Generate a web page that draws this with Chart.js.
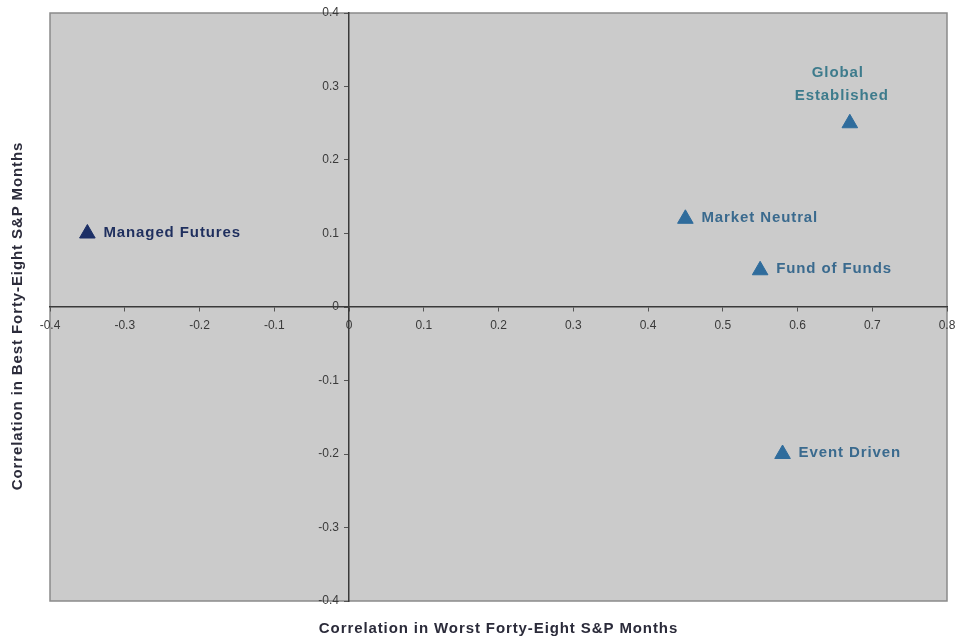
<!DOCTYPE html>
<html>
<head>
<meta charset="utf-8">
<style>
  html, body { margin: 0; padding: 0; background: #ffffff; }
  canvas { display: block; }
</style>
<script src="https://cdn.jsdelivr.net/npm/chart.js@4.4.1/dist/chart.umd.min.js"></script>
</head>
<body>
<canvas id="chart" width="960" height="640"></canvas>
<script>
// Hedge fund strategy correlations with the S&P 500
const strategies = ['Managed Futures', 'Market Neutral', 'Fund of Funds', 'Global Established', 'Event Driven'];
const worstMonthsCorr = [-0.35, 0.45, 0.55, 0.67, 0.58];
const bestMonthsCorr = [0.10, 0.12, 0.05, 0.25, -0.20];
const xAxisTicks = [-0.4, -0.3, -0.2, -0.1, 0, 0.1, 0.2, 0.3, 0.4, 0.5, 0.6, 0.7, 0.8];
const yAxisTicks = [-0.4, -0.3, -0.2, -0.1, 0, 0.1, 0.2, 0.3, 0.4];

const xTitle = 'Correlation in Worst Forty-Eight S&P Months';
const yTitle = 'Correlation in Best Forty-Eight S&P Months';

const NAVY = '#1c2f66';
const STEEL = '#2f6c9c';
const labelColor = i => (i === 0 ? '#1f2f5e' : (i === 3 ? '#3d7b8c' : '#3a6a8e'));
const FONT = '"Liberation Sans", Arial, sans-serif';

const points = strategies.map((name, i) => ({ x: worstMonthsCorr[i], y: bestMonthsCorr[i] }));

// Grey plot panel with a thin frame
const panelPlugin = {
  id: 'panel',
  beforeDraw(chart) {
    const { ctx, chartArea: a } = chart;
    ctx.save();
    ctx.fillStyle = '#cbcbcb';
    ctx.fillRect(a.left, a.top, a.right - a.left, a.bottom - a.top);
    ctx.strokeStyle = '#8a8a8a';
    ctx.lineWidth = 1.5;
    ctx.strokeRect(a.left, a.top, a.right - a.left, a.bottom - a.top);
    ctx.restore();
  }
};

// Point names beside each marker, plus the two axis titles
const labelPlugin = {
  id: 'pointNames',
  afterDatasetsDraw(chart) {
    const { ctx, chartArea: a } = chart;
    const meta = chart.getDatasetMeta(0);
    ctx.save();
    ctx.font = 'bold 15px ' + FONT;
    ctx.letterSpacing = '0.9px';
    ctx.textBaseline = 'middle';
    meta.data.forEach((el, i) => {
      ctx.fillStyle = labelColor(i);
      const name = strategies[i];
      if (name === 'Global Established') {
        ctx.textAlign = 'center';
        ctx.fillText('Global', el.x - 12, el.y - 50);
        ctx.fillText('Established', el.x - 8, el.y - 27);
      } else {
        ctx.textAlign = 'left';
        ctx.fillText(name, el.x + 16, el.y - 1);
      }
    });

    ctx.fillStyle = '#2b2b3a';
    ctx.textAlign = 'center';
    ctx.fillText(xTitle, (a.left + a.right) / 2, 629);
    ctx.translate(18, (a.top + a.bottom) / 2 + 9);
    ctx.rotate(-Math.PI / 2);
    ctx.fillText(yTitle, 0, 0);
    ctx.restore();
  }
};

const fmt = v => {
  const r = Math.round(v * 10) / 10;
  return r === 0 ? '0' : String(r);
};

new Chart(document.getElementById('chart'), {
  type: 'scatter',
  data: {
    datasets: [{
      data: points,
      pointStyle: 'triangle',
      pointRadius: 9,
      pointHoverRadius: 9,
      pointBackgroundColor: ctx => (ctx.dataIndex === 0 ? NAVY : STEEL),
      pointBorderColor: ctx => (ctx.dataIndex === 0 ? NAVY : STEEL),
      pointBorderWidth: 1
    }]
  },
  options: {
    responsive: false,
    animation: false,
    layout: { padding: { left: 50, right: 13, top: 13, bottom: 39 } },
    plugins: { legend: { display: false }, tooltip: { enabled: false } },
    scales: {
      x: {
        type: 'linear',
        position: { y: 0 },
        min: -0.4,
        max: 0.8,
        afterBuildTicks: axis => { axis.ticks = xAxisTicks.map(v => ({ value: v })); },
        // end labels may overhang the frame, so no extra room is reserved
        afterFit: axis => { axis.paddingLeft = 0; axis.paddingRight = 0; },
        ticks: {
          callback: fmt,
          color: '#3a3a3a',
          font: { family: FONT, size: 12 },
          padding: 7,
          maxRotation: 0,
          autoSkip: false
        },
        grid: { drawOnChartArea: false, drawTicks: true, tickLength: 4, color: '#555555' },
        border: { display: true, color: '#3a3a3a', width: 1.5 }
      },
      y: {
        type: 'linear',
        position: { x: 0 },
        min: -0.4,
        max: 0.4,
        afterBuildTicks: axis => { axis.ticks = yAxisTicks.map(v => ({ value: v })); },
        afterFit: axis => { axis.paddingTop = 0; axis.paddingBottom = 0; },
        ticks: {
          // trailing spaces keep the labels clear of the tick marks
          callback: v => fmt(v) + '   ',
          color: '#3a3a3a',
          font: { family: FONT, size: 12 },
          autoSkip: false
        },
        grid: { drawOnChartArea: false, drawTicks: true, tickLength: 4, color: '#555555' },
        border: { display: true, color: '#3a3a3a', width: 1.5 }
      }
    }
  },
  plugins: [panelPlugin, labelPlugin]
});
</script>
</body>
</html>
